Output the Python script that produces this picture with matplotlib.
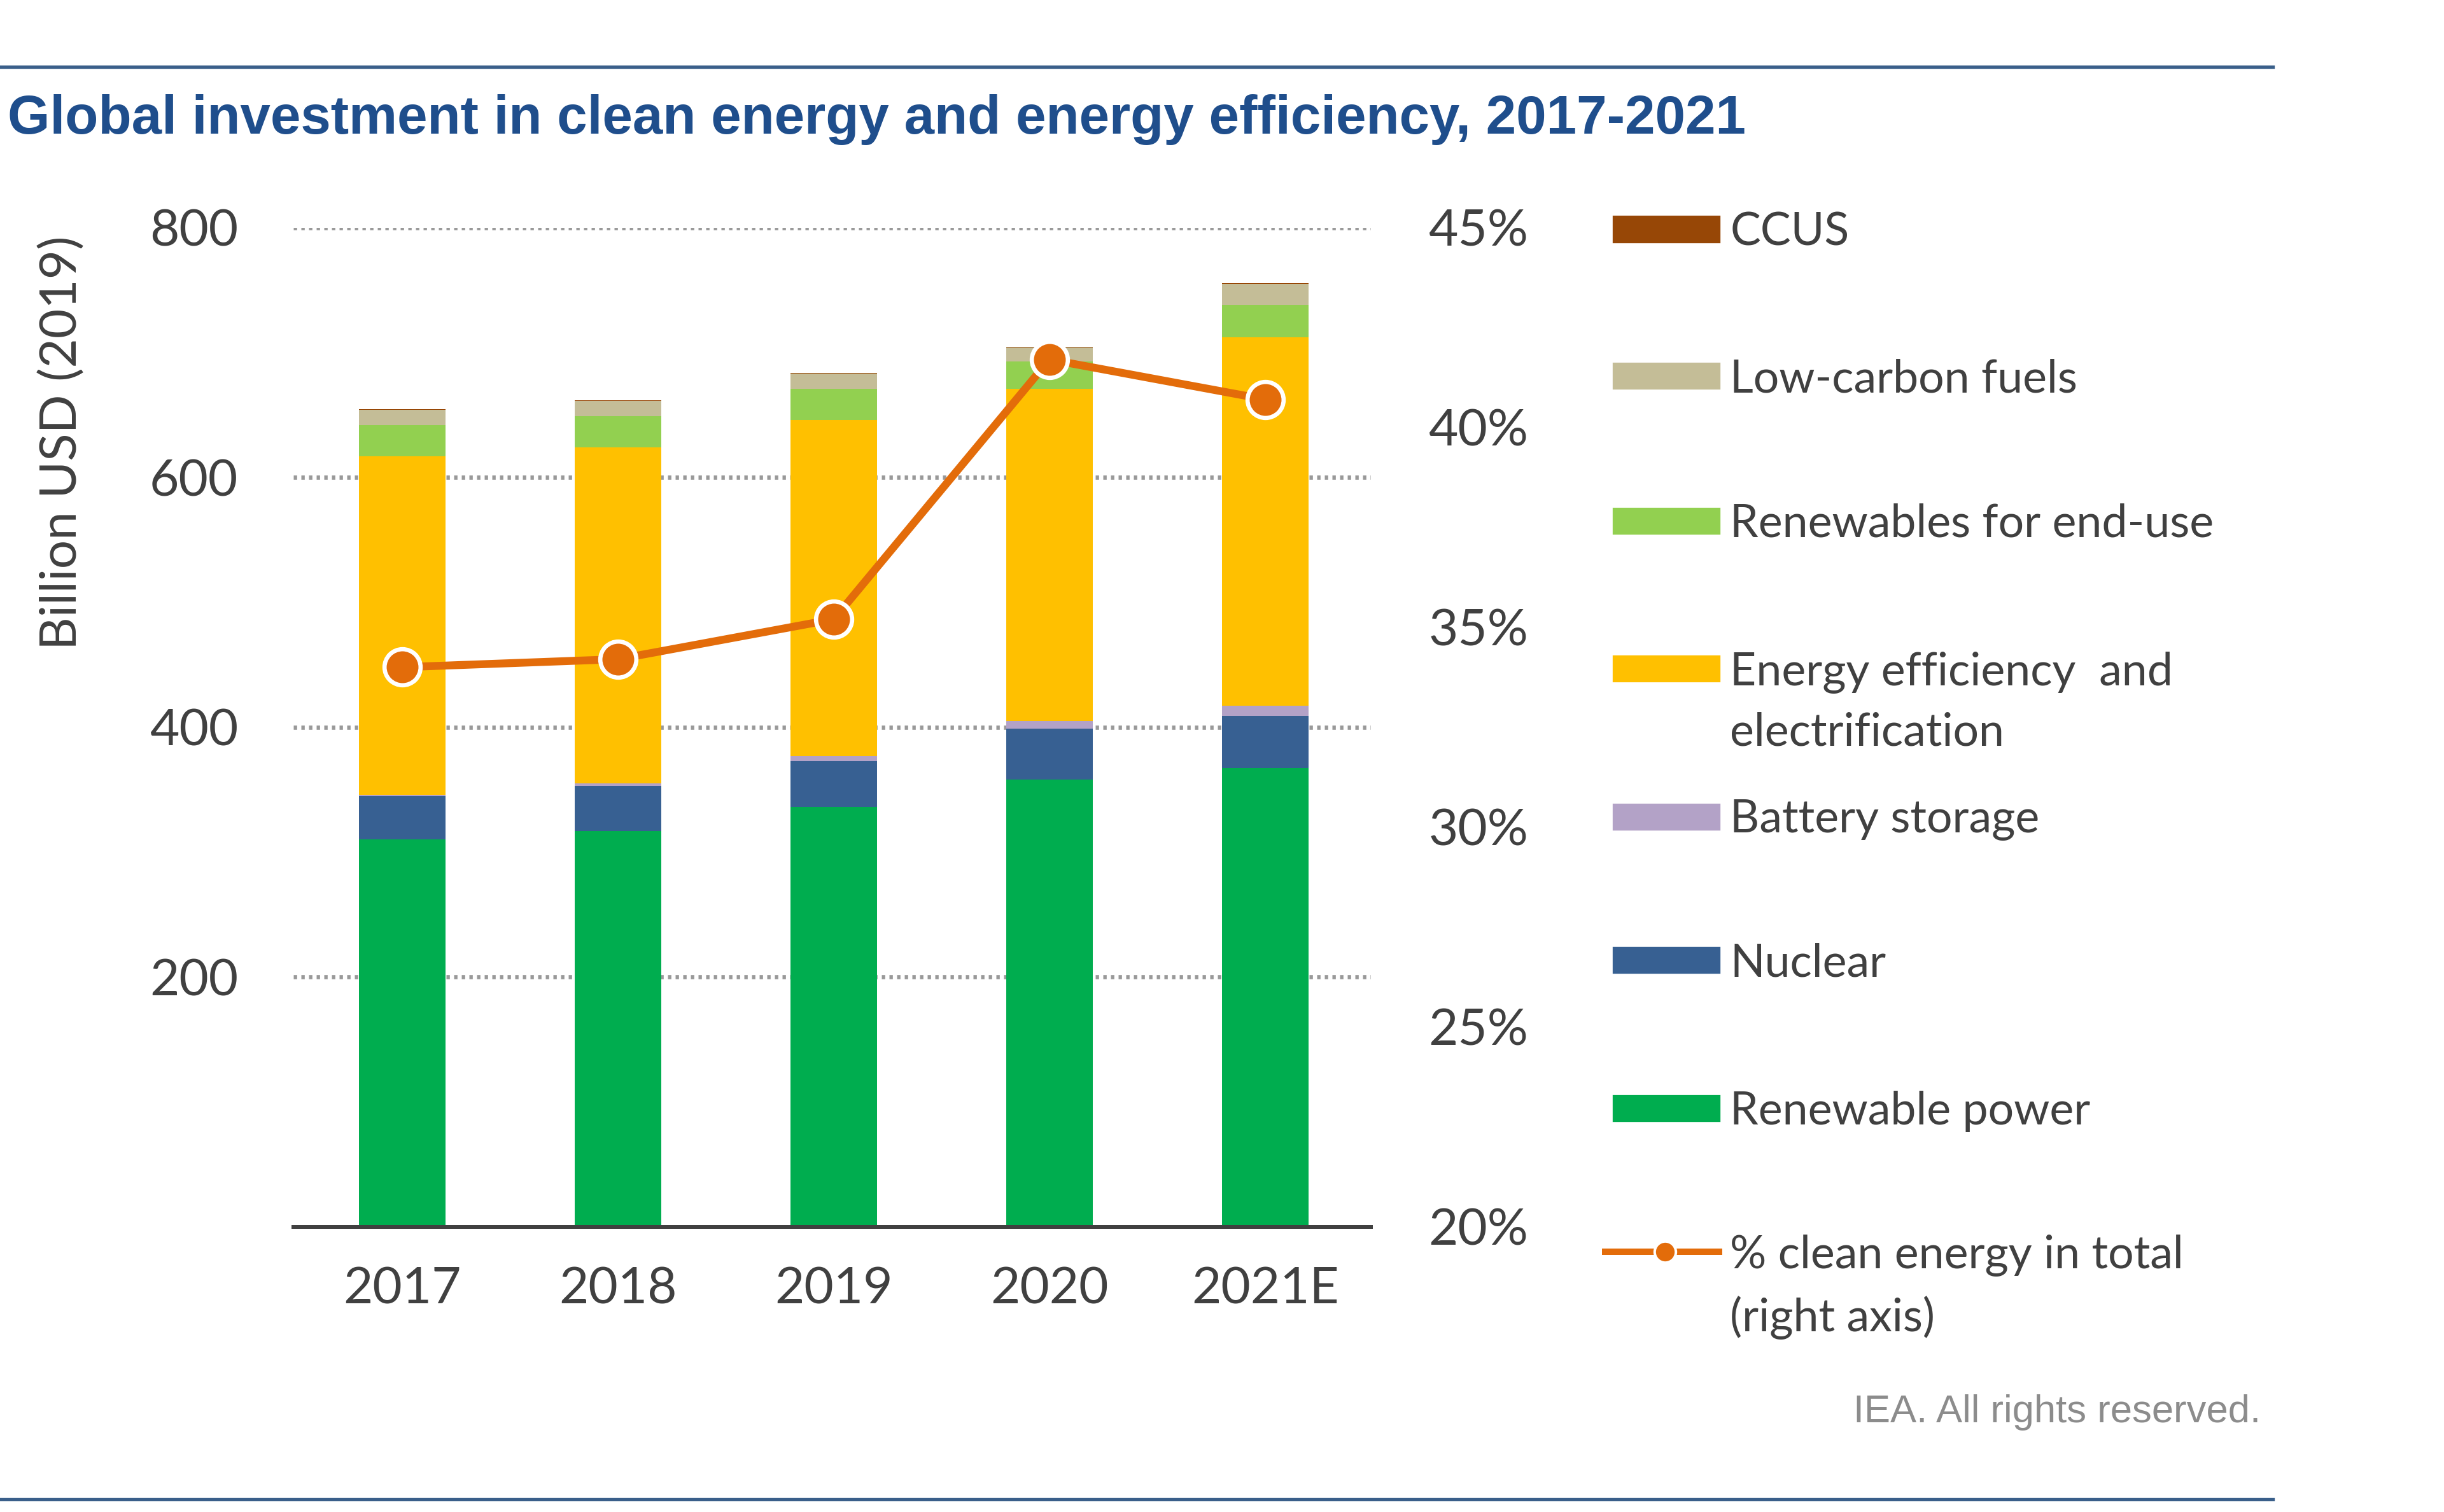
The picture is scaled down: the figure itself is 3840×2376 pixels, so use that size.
import matplotlib
matplotlib.use("Agg")
import matplotlib.pyplot as plt
import numpy as np
from matplotlib.patches import Rectangle
from matplotlib.lines import Line2D

# data (billion USD 2019, cumulative stack tops converted to segments)
years = ['2017', '2018', '2019', '2020', '2021E']
renewable_power = [310, 317, 336, 358, 367]
nuclear = [35, 36, 37, 41, 42]
battery_storage = [1, 2, 4, 6, 8]
efficiency_elec = [271, 269, 269, 266, 295]
renewables_end_use = [25, 25, 25, 22, 26]
low_carbon_fuels = [12, 12, 12, 11, 17]
ccus = [0.5, 0.5, 0.5, 0.5, 0.5]
pct_clean = [34.0, 34.2, 35.2, 41.7, 40.7]

series_labels = ['Renewable power', 'Nuclear', 'Battery storage',
                 'Energy efficiency  and\nelectrification', 'Renewables for end-use',
                 'Low-carbon fuels', 'CCUS']
series_colors = ['#00ad4f', '#376092', '#b3a2c7', '#ffc000', '#92d050', '#c4bd97', '#974706']
line_label = '% clean energy in total\n(right axis)'
line_color = '#e36c0a'

txt = '#404040'
font = 'Lato'


def main():
    fig = plt.figure(figsize=(16, 9.9), dpi=240)
    ax = fig.add_axes([0.120, 0.1887, 0.441, 0.6608])

    x = np.arange(len(years))
    bottom = np.zeros(len(years))
    stacks = [renewable_power, nuclear, battery_storage, efficiency_elec,
              renewables_end_use, low_carbon_fuels, ccus]
    for vals, col in zip(stacks, series_colors):
        ax.bar(x, vals, 0.40, bottom=bottom, color=col, zorder=2)
        bottom += np.array(vals)

    ax.set_xlim(-0.505, 4.49)
    ax.set_ylim(0, 800)
    ax.set_yticks([200, 400, 600, 800])
    ax.set_xticks(x)
    ax.set_xticklabels(years)
    for s in ['top', 'left', 'right']:
        ax.spines[s].set_visible(False)
    ax.spines['bottom'].set_color('#404040')
    ax.spines['bottom'].set_linewidth(1.8)
    ax.tick_params(length=0, labelsize=24, labelcolor=txt)
    ax.tick_params(axis='y', pad=26)
    ax.tick_params(axis='x', pad=19)
    for lab in ax.get_xticklabels() + ax.get_yticklabels():
        lab.set_fontfamily(font)
    ax.yaxis.grid(True, color='#999999', linestyle=(0, (0.8, 1.0)), linewidth=2.0, zorder=0)
    ax.set_axisbelow(True)

    ax2 = ax.twinx()
    ax2.set_ylim(20, 45)
    ax2.set_yticks([20, 25, 30, 35, 40, 45])
    ax2.set_yticklabels(['%d%%' % v for v in [20, 25, 30, 35, 40, 45]])
    for s in ax2.spines.values():
        s.set_visible(False)
    ax2.tick_params(length=0, labelsize=24, labelcolor=txt, pad=27)
    for lab in ax2.get_yticklabels():
        lab.set_fontfamily(font)
    ax2.plot(x, pct_clean, color=line_color, linewidth=3.7, marker='o', markersize=17,
             markerfacecolor=line_color, markeredgecolor='white', markeredgewidth=2, zorder=5)

    fig.text(0.0255, 1 - 284 / 970, 'Billion USD (2019)', rotation=90, ha='center', va='center',
             fontsize=24, color=txt, family=font)

    # title and rules
    fig.text(0.003, 0.921, 'Global investment in clean energy and energy efficiency, 2017-2021',
             ha='left', va='center', fontsize=25.6, fontweight='bold', color='#1f4e8c',
             family='Liberation Sans')
    fig.add_artist(Line2D([0, 0.93], [1 - 43 / 970] * 2, color='#3a5f8a', linewidth=1.6))
    fig.add_artist(Line2D([0, 0.93], [1 - 962 / 970] * 2, color='#3a5f8a', linewidth=1.6))
    fig.text(0.925, 1 - 906 / 970, 'IEA. All rights reserved.', ha='right', va='center',
             fontsize=18.5, color='#8c8c8c', family='Liberation Sans')

    # legend, drawn by hand to keep the spacing of the original
    leg_y = [147, 241, 334, 429, 524, 616, 711]
    order = [6, 5, 4, 3, 2, 1, 0]
    px0, pw, ph = 1035 / 1568, 68 / 1568, 16 / 970
    tx = 1110 / 1568
    for yy, i in zip(leg_y, order):
        yc = 1 - yy / 970
        fig.add_artist(Rectangle((px0, yc - ph / 2), pw, ph, color=series_colors[i],
                                 transform=fig.transFigure))
        fig.text(tx, yc + 0.0115, series_labels[i], ha='left', va='top', fontsize=21.5,
                 color=txt, family=font, linespacing=1.55)
    yc = 1 - 803 / 970
    fig.add_artist(Line2D([1030 / 1568, 1103 / 1568], [yc, yc], color=line_color, linewidth=3))
    fig.add_artist(Line2D([1068 / 1568], [yc], color=line_color, marker='o', markersize=10,
                          markeredgecolor='white', markeredgewidth=1.2))
    fig.text(tx, yc + 0.0115, line_label, ha='left', va='top', fontsize=21.5,
             color=txt, family=font, linespacing=1.55)

    fig.savefig('out.png', dpi=240, facecolor='white')


if __name__ == "__main__":
    main()
